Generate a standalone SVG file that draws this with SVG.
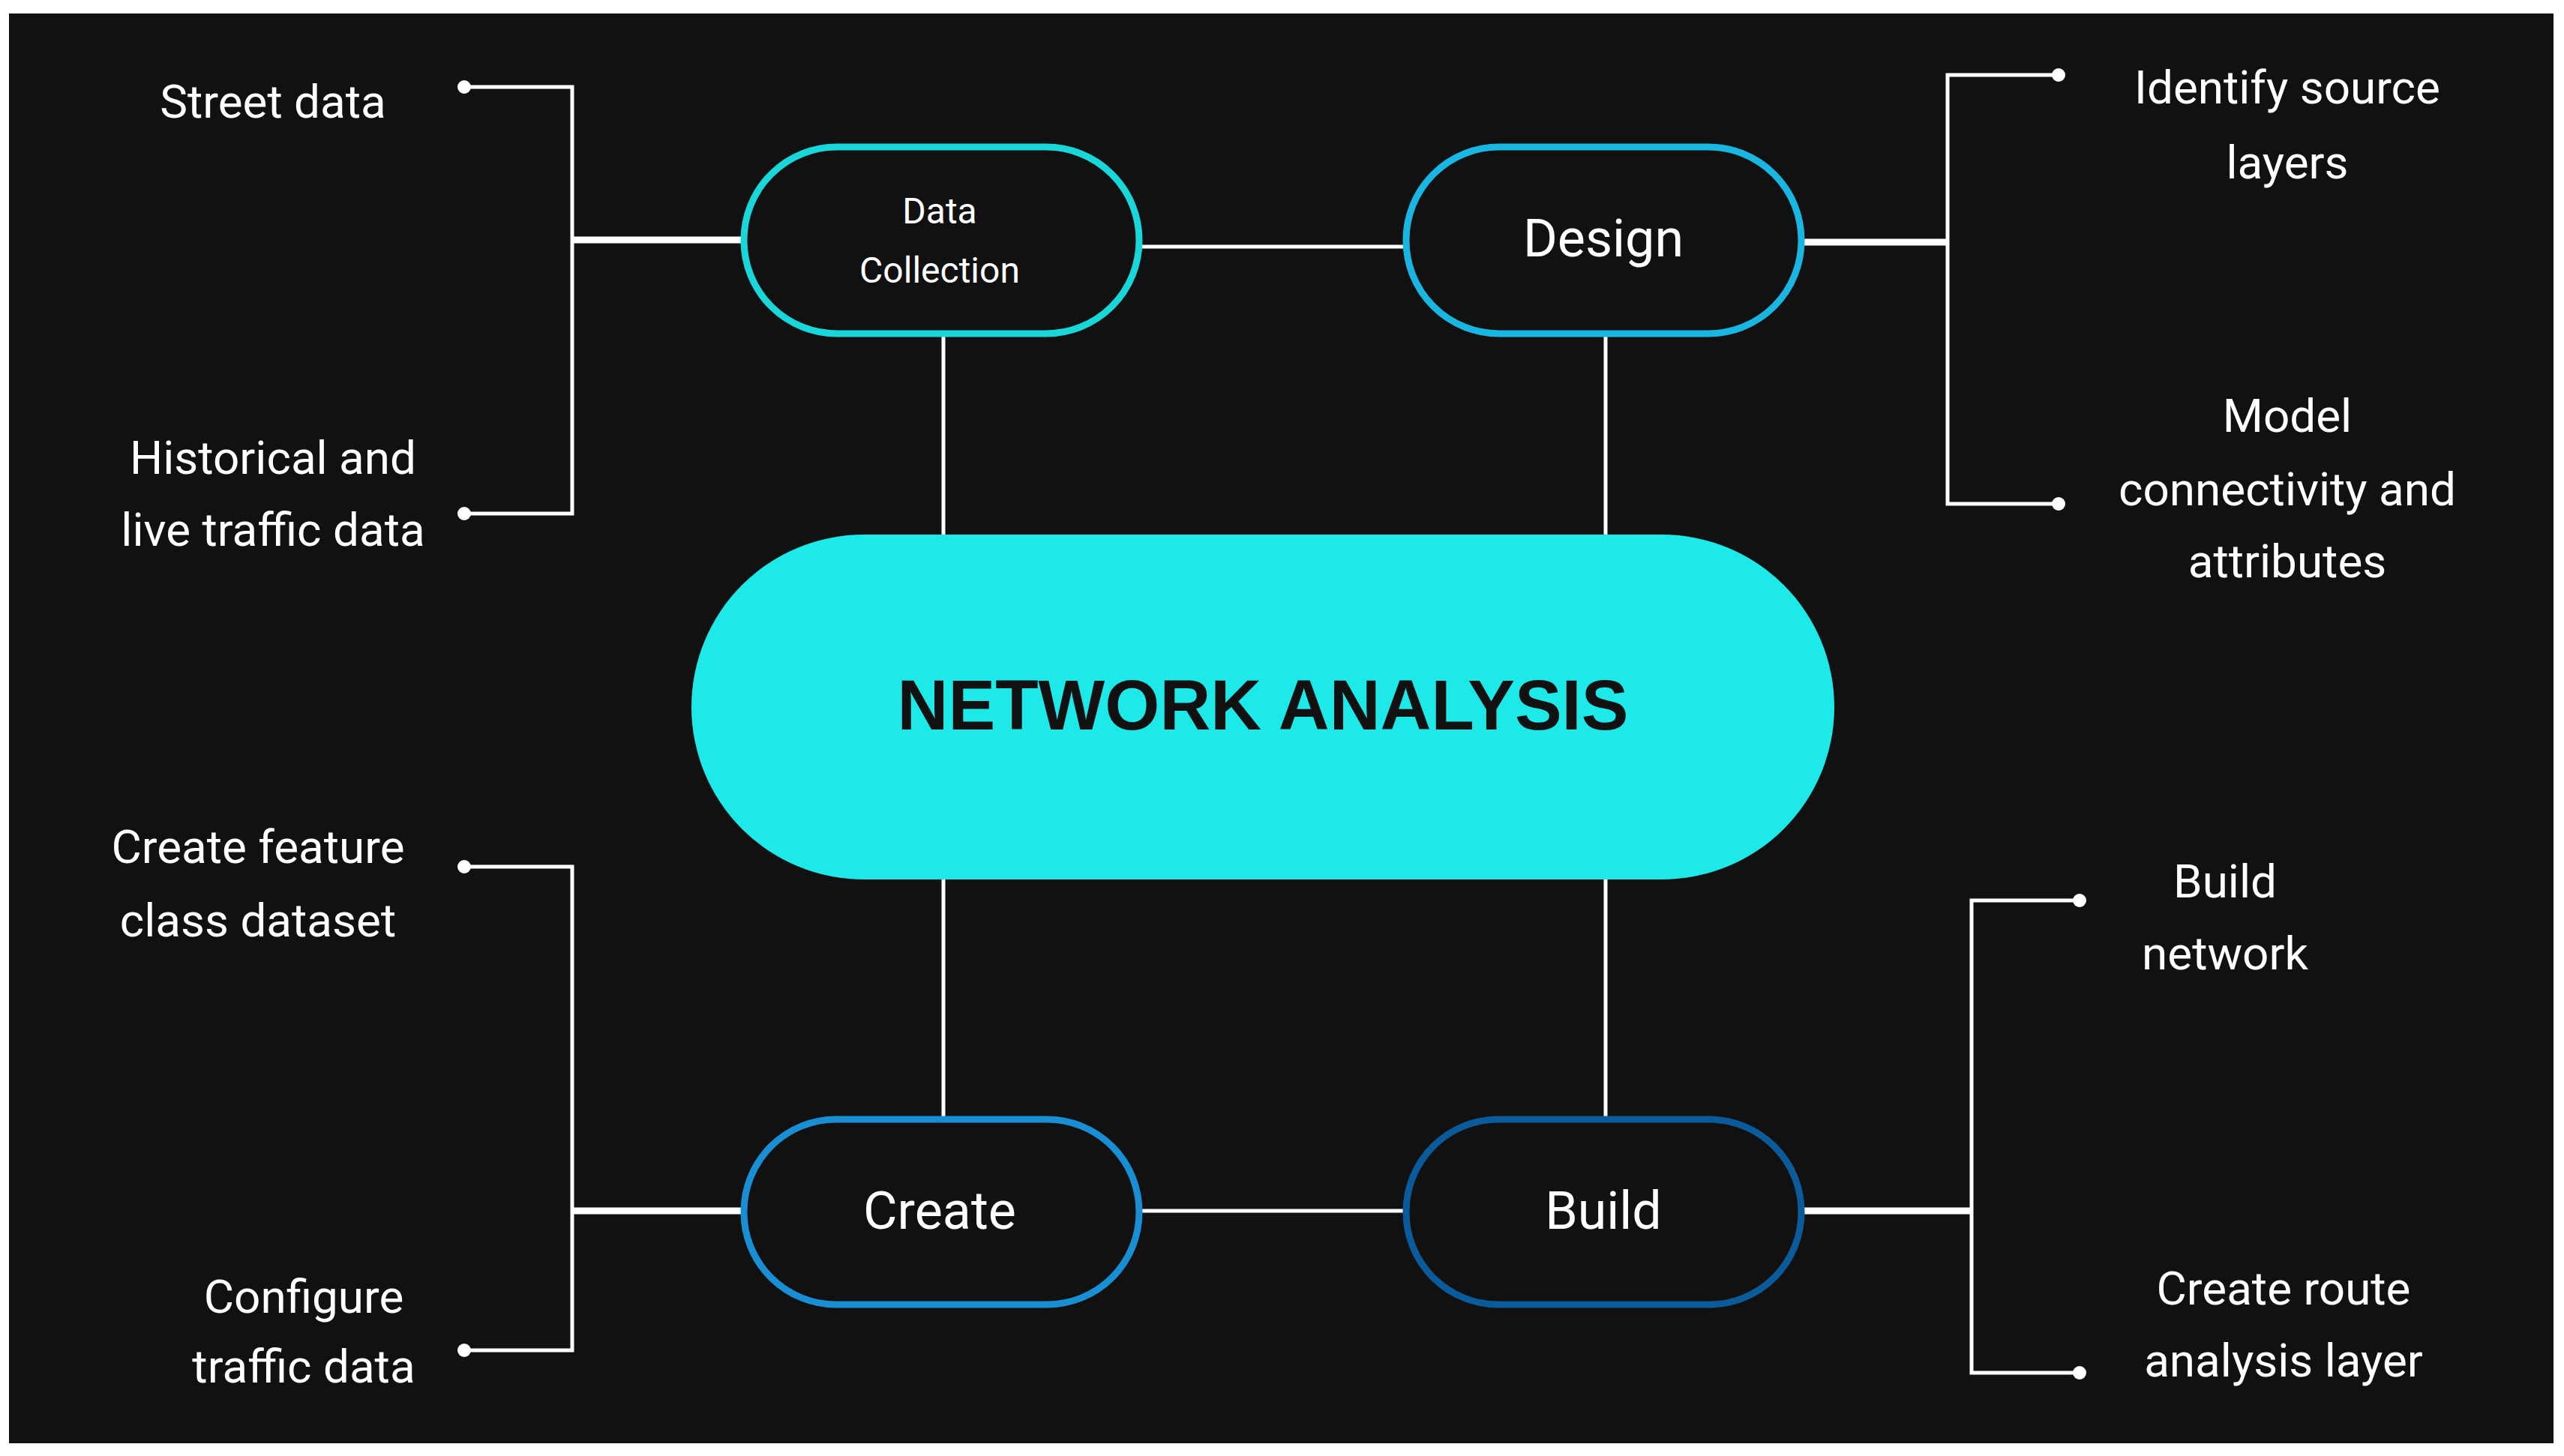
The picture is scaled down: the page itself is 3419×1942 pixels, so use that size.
<svg xmlns="http://www.w3.org/2000/svg" width="3419" height="1942" viewBox="0 0 3419 1942">
<style>
.t{font-family:Roboto,"Liberation Sans",sans-serif;fill:#fff;text-anchor:middle;dominant-baseline:central;font-size:62px}
.n{font-family:Roboto,"Liberation Sans",sans-serif;fill:#fff;text-anchor:middle;dominant-baseline:central;font-size:70px}
.ln{stroke:#fff;stroke-width:5;fill:none}
.thk{stroke:#fff;stroke-width:9;fill:none}
.pill{fill:#111;stroke-width:9}
</style>
<rect width="3419" height="1942" fill="#fff"/>
<rect x="12" y="18" width="3393" height="1907" fill="#111"/>
<g id="connectors">
<path class="ln" d="M1519 329H1875M1258 445V713M2141 445V713M1258 1173V1493M2141 1173V1493M1519 1615H1875"/>
<path class="ln" d="M619 116H763V685H619M619 1156H763V1801H619M2745 100H2597V672H2745M2773 1201H2629V1831H2773"/>
<path class="thk" d="M763 320H992M763 1615H992M2402 323H2597M2402 1615H2629"/>
<g fill="#fff"><circle cx="619" cy="116" r="9"/><circle cx="619" cy="685" r="9"/><circle cx="619" cy="1156" r="9"/><circle cx="619" cy="1801" r="9"/><circle cx="2745" cy="100" r="9"/><circle cx="2745" cy="672" r="9"/><circle cx="2773" cy="1201" r="9"/><circle cx="2773" cy="1831" r="9"/></g>
</g>
<g id="center"><rect x="922" y="713" width="1524" height="460" rx="230" fill="#1de9e9"/><text x="1684" y="940" text-anchor="middle" dominant-baseline="central" font-family="'Liberation Sans',Arial,sans-serif" font-weight="bold" font-size="94" fill="#111">NETWORK ANALYSIS</text></g>
<g id="datacollection"><rect class="pill" x="992" y="196" width="527" height="249" rx="124" stroke="#19d6d8"/><text class="t" x="1253" y="281" font-size="48" style="font-size:48px">Data</text><text class="t" x="1253" y="360" style="font-size:48px">Collection</text></g>
<g id="design"><rect class="pill" x="1875" y="196" width="527" height="249" rx="124" stroke="#1ab6e2"/><text class="n" x="2138" y="318">Design</text></g>
<g id="create"><rect class="pill" x="992" y="1493" width="527" height="247" rx="123" stroke="#1a8ed2"/><text class="n" x="1253" y="1615">Create</text></g>
<g id="build"><rect class="pill" x="1875" y="1493" width="527" height="247" rx="123" stroke="#0b5a9a"/><text class="n" x="2138" y="1615">Build</text></g>
<g id="labels">
<text class="t" x="364" y="135">Street data</text>
<text class="t" x="364" y="610">Historical and</text><text class="t" x="364" y="706">live traffic data</text>
<text class="t" x="344" y="1129">Create feature</text><text class="t" x="344" y="1227">class dataset</text>
<text class="t" x="405" y="1729">Configure</text><text class="t" x="405" y="1822">traffic data</text>
<text class="t" x="3050" y="116">Identify source</text><text class="t" x="3050" y="216">layers</text>
<text class="t" x="3050" y="554">Model</text><text class="t" x="3050" y="652">connectivity and</text><text class="t" x="3050" y="748">attributes</text>
<text class="t" x="2967" y="1175">Build</text><text class="t" x="2967" y="1271">network</text>
<text class="t" x="3045" y="1718">Create route</text><text class="t" x="3045" y="1814">analysis layer</text>
</g>
</svg>
